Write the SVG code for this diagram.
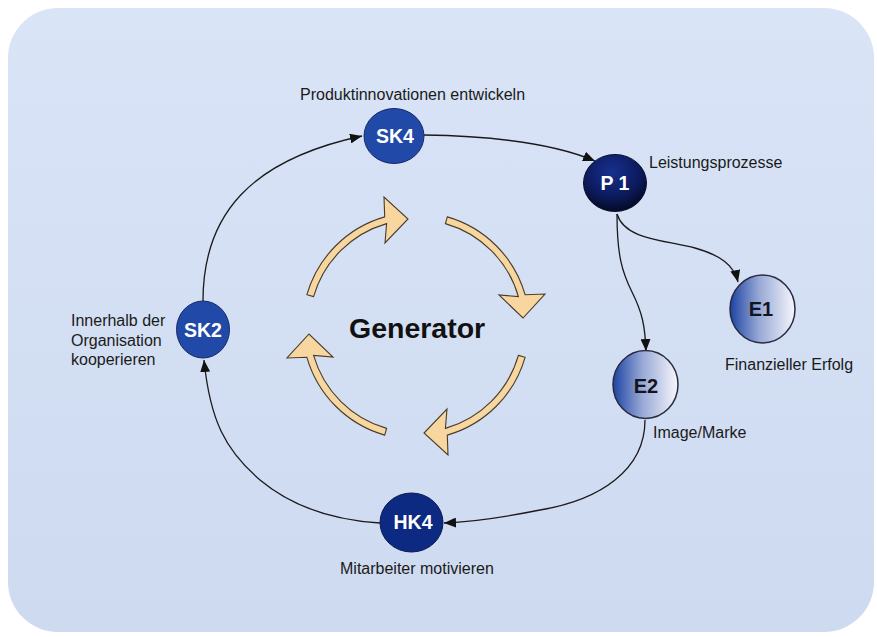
<svg xmlns="http://www.w3.org/2000/svg" width="877" height="637" viewBox="0 0 877 637">
<defs>
<style>
.lbl{font-family:"Liberation Sans",Arial,sans-serif;font-size:16px;fill:#1a1a1a}
.nt{font-family:"Liberation Sans",Arial,sans-serif;font-size:19.5px;font-weight:bold;fill:#ffffff;text-anchor:middle}
.nd{font-family:"Liberation Sans",Arial,sans-serif;font-size:20px;font-weight:bold;fill:#14141f;text-anchor:middle}
.con{fill:none;stroke:#1a1a1a;stroke-width:1.3;marker-end:url(#ah)}
.gen{fill:#f7d6a0;stroke:#4a3c28;stroke-width:1.1;stroke-linejoin:miter}
</style>
<linearGradient id="bg" x1="0" y1="0" x2="0" y2="1">
<stop offset="0" stop-color="#d9e4f7"/>
<stop offset="1" stop-color="#cedaf0"/>
</linearGradient>
<linearGradient id="eg" x1="0" y1="0" x2="1" y2="0">
<stop offset="0" stop-color="#1d43a2"/>
<stop offset="0.45" stop-color="#98a9d6"/>
<stop offset="1" stop-color="#f7f7fc"/>
</linearGradient>
<radialGradient id="pg" cx="0.45" cy="0.3" r="0.75">
<stop offset="0" stop-color="#17308e"/>
<stop offset="0.6" stop-color="#0c1a5c"/>
<stop offset="1" stop-color="#03071a"/>
</radialGradient>
<marker id="ah" markerUnits="userSpaceOnUse" markerWidth="13" markerHeight="10" refX="12" refY="5" orient="auto">
<path d="M0,0 L12,5 L0,10 Z" fill="#111"/>
</marker>
<path id="garrow" class="gen" d="M313.6,296.6 L306.9,294.7 A113.5,113.5 0 0 1 384.7,216.9 L384,197 L408,219 L385,243 L386.6,223.6 A106.5,106.5 0 0 0 313.6,296.6 Z"/>
</defs>
<rect x="0" y="0" width="877" height="637" fill="#ffffff"/>
<rect x="8" y="8" width="866" height="624" rx="50" ry="50" fill="url(#bg)"/>

<g id="generator">
<use href="#garrow"/>
<use href="#garrow" transform="rotate(90 416 326)"/>
<use href="#garrow" transform="rotate(180 416 326)"/>
<use href="#garrow" transform="rotate(270 416 326)"/>
<text x="349" y="338" style="font-family:'Liberation Sans',Arial,sans-serif;font-size:28.5px;font-weight:bold;fill:#111">Generator</text>
</g>

<g id="connectors">
<path class="con" d="M203,301 C203,215 250,160 362,136"/>
<path class="con" d="M424,135 C490,136 550,142 595,161"/>
<path class="con" d="M617,214 C625,240 665,240 695,248 C720,255 734,265 738,282"/>
<path class="con" d="M617,214 C617,255 622,272 632,292 C642,312 645,325 646,351"/>
<path class="con" d="M645,420 C645,470 600,500 540,510 C500,518 470,522 444,523"/>
<path class="con" d="M380,523 C330,520 290,505 260,480 C225,450 210,420 204,360"/>
</g>

<g id="SK4">
<ellipse cx="394" cy="136" rx="30" ry="27.5" fill="#2049a8" stroke="#1a2a66" stroke-width="1"/>
<text class="nt" x="395" y="143">SK4</text>
<text class="lbl" x="300" y="100">Produktinnovationen entwickeln</text>
</g>

<g id="P1">
<ellipse cx="615" cy="183" rx="31.5" ry="28.5" fill="url(#pg)" stroke="#0a0f2a" stroke-width="1"/>
<text class="nt" x="615" y="190">P 1</text>
<text class="lbl" x="649" y="168">Leistungsprozesse</text>
</g>

<g id="E1">
<ellipse cx="762.5" cy="309" rx="32.5" ry="34" fill="url(#eg)" stroke="#2a2a40" stroke-width="1.5"/>
<text class="nd" x="761" y="316">E1</text>
<text class="lbl" x="725" y="370">Finanzieller Erfolg</text>
</g>

<g id="E2">
<ellipse cx="645.5" cy="384.5" rx="32.5" ry="34" fill="url(#eg)" stroke="#2a2a40" stroke-width="1.5"/>
<text class="nd" x="646" y="393">E2</text>
<text class="lbl" x="653" y="438">Image/Marke</text>
</g>

<g id="HK4">
<ellipse cx="411.5" cy="522.5" rx="31.5" ry="29.5" fill="#0d2a82" stroke="#0a1a50" stroke-width="1"/>
<text class="nt" x="413" y="529">HK4</text>
<text class="lbl" x="340" y="574">Mitarbeiter motivieren</text>
</g>

<g id="SK2">
<ellipse cx="203" cy="329.5" rx="26.5" ry="28.5" fill="#2049a8" stroke="#1a2a66" stroke-width="1"/>
<text class="nt" x="203" y="337">SK2</text>
<text class="lbl" x="71" y="326">Innerhalb der</text>
<text class="lbl" x="71" y="345.5">Organisation</text>
<text class="lbl" x="71" y="365">kooperieren</text>
</g>
</svg>
